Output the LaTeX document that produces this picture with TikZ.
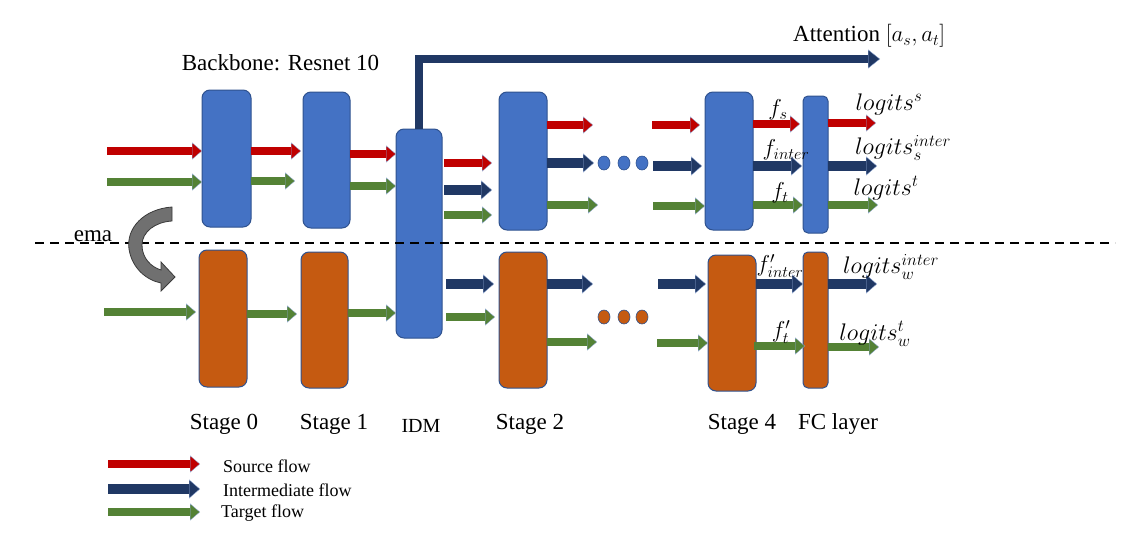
\RequirePackage{fix-cm}
\documentclass[tikz,border=0pt]{standalone}
\usepackage{fontspec}
\setmainfont{Liberation Serif}
\usetikzlibrary{arrows.meta}
\definecolor{boxblue}{HTML}{4472C4}
\definecolor{boxorange}{HTML}{C55A11}
\definecolor{boxedge}{HTML}{2F528F}
\definecolor{arrred}{HTML}{C00000}
\definecolor{arrnavy}{HTML}{203864}
\definecolor{arrgreen}{HTML}{548235}
\definecolor{arredge}{HTML}{8FA7D3}
\definecolor{emagray}{HTML}{707070}
\definecolor{emaedge}{HTML}{3A3A3A}
\begin{document}
\begin{tikzpicture}[x=1pt,y=-1pt,
  box/.style={draw=boxedge, line width=1pt, rounded corners=8pt, inner sep=0pt, outer sep=0pt},
  bluebox/.style={box, fill=boxblue},
  orgbox/.style={box, fill=boxorange},
  thinbox/.style={rounded corners=5pt},
  redf/.style={draw=arrred, line width=8pt,
    preaction={draw=arredge, line width=8.8pt, shorten >=9pt, arrows=-},
    -{Triangle[length=10pt,width=17pt,line width=0.35pt,color=arredge,fill=arrred]}},
  greenf/.style={draw=arrgreen, line width=8pt,
    preaction={draw=arredge, line width=8.8pt, shorten >=9pt, arrows=-},
    -{Triangle[length=10pt,width=17pt,line width=0.35pt,color=arredge,fill=arrgreen]}},
  navyf/.style={draw=arrnavy, line width=10pt,
    preaction={draw=arredge, line width=10.8pt, shorten >=10pt, arrows=-},
    -{Triangle[length=11pt,width=19pt,line width=0.35pt,color=arredge,fill=arrnavy]}},
  txt/.style={font=\fontsize{23}{27}\selectfont, inner sep=0pt},
  idmtxt/.style={font=\fontsize{20}{24}\selectfont, inner sep=0pt},
  legtxt/.style={font=\fontsize{18}{21}\selectfont, inner sep=0pt, anchor=west},
  mlab/.style={font=\fontsize{23}{27}\selectfont, inner sep=0pt},
  llab/.style={font=\fontsize{24}{28}\selectfont, inner sep=0pt},
  bdot/.style={draw=boxedge, line width=0.6pt, fill=boxblue},
  odot/.style={draw=boxedge, line width=0.6pt, fill=boxorange}
]
\useasboundingbox (0,0) rectangle (1136,541);

% ---- boxes (top / source-intermediate branch)
\node[bluebox, minimum width=49pt, minimum height=137pt] (s0t) at (226.5,158.5) {};
\node[bluebox, minimum width=47pt, minimum height=136pt] (s1t) at (326.5,160) {};
\node[bluebox, minimum width=46pt, minimum height=209pt] (idm) at (419,233.5) {};
\node[bluebox, minimum width=48pt, minimum height=138pt] (s2t) at (523,161) {};
\node[bluebox, minimum width=48pt, minimum height=138pt] (s4t) at (729,161) {};
\node[bluebox, thinbox, minimum width=25pt, minimum height=137pt] (fct) at (815.5,164.5) {};

% ---- boxes (bottom / ema branch)
\node[orgbox, minimum width=48pt, minimum height=137pt] (s0b) at (223,318.5) {};
\node[orgbox, minimum width=47pt, minimum height=136pt] (s1b) at (324.5,320) {};
\node[orgbox, minimum width=48pt, minimum height=136pt] (s2b) at (523,320) {};
\node[orgbox, minimum width=48pt, minimum height=136pt] (s4b) at (732,323) {};
\node[orgbox, thinbox, minimum width=25pt, minimum height=136pt] (fcb) at (815.5,320) {};

% ---- dashed separator
\draw[line width=1.5pt, dash pattern=on 9pt off 6pt] (35,243) -- (1115,243);

% ---- attention arrow
\coordinate (attend) at (880,59);
\draw[draw=arrnavy, line width=8pt, line join=miter,
  preaction={draw=arredge, line width=8.8pt, shorten >=11pt, arrows=-, line join=miter},
  -{Triangle[length=12pt,width=19pt,line width=0.35pt,color=arredge,fill=arrnavy]}]
  (idm.north) -- (idm.north |- attend) -- (attend);

% ---- top flows
\draw[redf]   (107,151) -- (s0t.west |- 0,151);
\draw[greenf] (107,182) -- (s0t.west |- 0,182);
\draw[redf]   (s0t.east |- 0,151) -- ([xshift=-2pt]s1t.west |- 0,151);
\draw[greenf] (s0t.east |- 0,181) -- ([xshift=-8pt]s1t.west |- 0,181);
\draw[redf]   (s1t.east |- 0,154) -- (idm.west |- 0,154);
\draw[greenf] (s1t.east |- 0,186) -- (idm.west |- 0,186);

\draw[redf]   ([xshift=2pt]idm.east |- 0,163) -- ([xshift=-7pt]s2t.west |- 0,163);
\draw[navyf]  ([xshift=2pt]idm.east |- 0,190) -- ([xshift=-7pt]s2t.west |- 0,190);
\draw[greenf] ([xshift=2pt]idm.east |- 0,215) -- ([xshift=-7pt]s2t.west |- 0,215);

\draw[redf]   (s2t.east |- 0,125) -- (593,125);
\draw[navyf]  (s2t.east |- 0,163) -- (594,163);
\draw[greenf] (s2t.east |- 0,205) -- (598,205);

\foreach \x [count=\i] in {604,624,642} \draw[bdot] (\x,163) ellipse (6pt and 7pt);

\draw[redf]   (652,125) -- ([xshift=-5pt]s4t.west |- 0,125);
\draw[navyf]  (653,166) -- ([xshift=-3pt]s4t.west |- 0,166);
\draw[greenf] (653,206) -- (s4t.west |- 0,206);

\draw[redf]   (s4t.east |- 0,124) -- ([xshift=-3pt]fct.west |- 0,124);
\draw[navyf]  (s4t.east |- 0,166) -- ([xshift=-1pt]fct.west |- 0,166);
\draw[greenf] (s4t.east |- 0,205) -- (fct.west |- 0,205);

\draw[redf]   (fct.east |- 0,123) -- (876,123);
\draw[navyf]  (fct.east |- 0,166) -- (877,166);
\draw[greenf] (fct.east |- 0,205) -- (878,205);

% ---- bottom flows
\draw[greenf] (104,312) -- ([xshift=-3pt]s0b.west |- 0,312);
\draw[greenf] (s0b.east |- 0,314) -- ([xshift=-4pt]s1b.west |- 0,314);
\draw[greenf] (s1b.east |- 0,313) -- (idm.west |- 0,313);

\draw[navyf]  ([xshift=4pt]idm.east |- 0,284) -- ([xshift=-5pt]s2b.west |- 0,284);
\draw[greenf] ([xshift=4pt]idm.east |- 0,317) -- ([xshift=-4pt]s2b.west |- 0,317);

\draw[navyf]  (s2b.east |- 0,284) -- (593,284);
\draw[greenf] (s2b.east |- 0,342) -- (597,342);

\foreach \x [count=\i] in {604,624,642} \draw[odot] (\x,317) ellipse (6pt and 7pt);

\draw[navyf]  (658,284) -- ([xshift=-2pt]s4b.west |- 0,284);
\draw[greenf] (657,343) -- (s4b.west |- 0,343);

\draw[navyf]  (s4b.east |- 0,284) -- (fcb.west |- 0,284);
\draw[greenf] ([xshift=-2pt]s4b.east |- 0,346) -- ([xshift=2pt]fcb.west |- 0,346);

\draw[navyf]  (fcb.east |- 0,284) -- (877,284);
\draw[greenf] (fcb.east |- 0,347) -- (879,347);

% ---- ema curved arrow
\fill[emagray, draw=emaedge, line width=0.8pt]
  (172,207) .. controls (144,209) and (126,228) .. (129,249)
  .. controls (132,268) and (146,280) .. (161,283)
  -- (161,291) -- (175,277) -- (161,262) -- (161,270)
  .. controls (151,267) and (142,258) .. (142,245)
  .. controls (142,232) and (155,222) .. (172,221) -- cycle;
\node[txt] (ema) at (93,236) {ema};

% ---- texts
\node[txt] (bb) at (280.5,63) {Backbone: Resnet 10};
\node[txt, anchor=west] (att) at (793,36) {Attention $[a_s, a_t]$};

\node[txt] (l0) at (224,424) {Stage 0};
\node[txt] (l1) at (334,424) {Stage 1};
\node[idmtxt] (li) at (421,426) {IDM};
\node[txt] (l2) at (530,424) {Stage 2};
\node[txt] (l4) at (742,424) {Stage 4};
\node[txt] (lf) at (838,424) {FC layer};

% ---- feature / logit labels
\node[mlab] (fs) at (778,110) {$f_s$};
\node[mlab] (fi) at (786,150) {$f_{inter}$};
\node[mlab] (ft) at (780,193) {$f_t$};
\node[llab] (ls) at (889,104) {$logits^s$};
\node[llab] (lsi) at (903,148) {$logits_s^{inter}$};
\node[llab] (lt) at (886,188) {$logits^t$};
\node[mlab] (fwi) at (780,266) {$f'_{inter}$};
\node[mlab] (fwt) at (781,332) {$f'_t$};
\node[llab] (lwi) at (891,267) {$logits_w^{inter}$};
\node[llab] (lwt) at (875,334) {$logits_w^t$};

% ---- legend
\draw[redf]   (108,464) -- (200,464);
\draw[navyf]  (108,489) -- (200,489);
\draw[greenf] (108,512) -- (200,512);
\node[legtxt] (lg1) at (223,466) {Source flow};
\node[legtxt] (lg2) at (223,490) {Intermediate flow};
\node[legtxt] (lg3) at (221,513) {Target flow};
\end{tikzpicture}
\end{document}
